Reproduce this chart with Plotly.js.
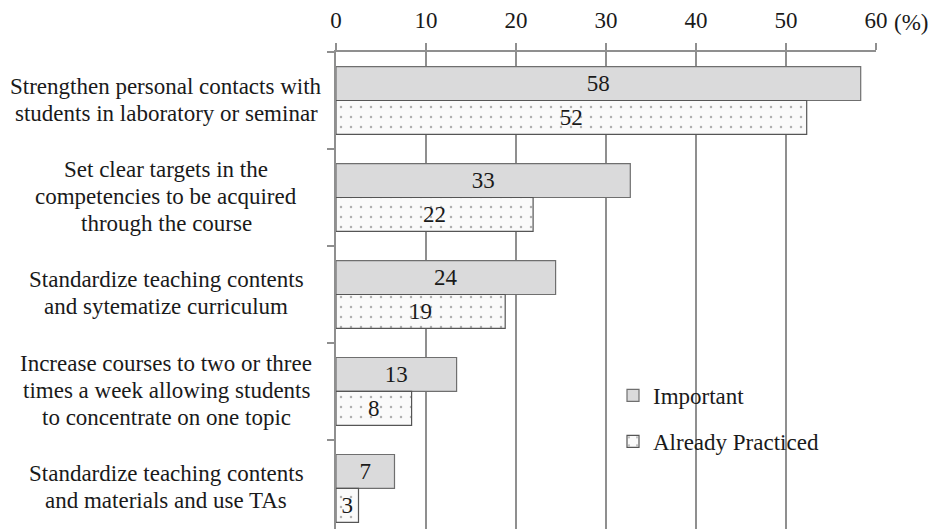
<!DOCTYPE html>
<html>
<head>
<meta charset="utf-8">
<script src="https://cdn.plot.ly/plotly-3.0.1.min.js"></script>
<style>html,body{margin:0;padding:0;background:#fff;}#chart{width:931px;height:529px;}</style>
</head>
<body>
<div id="chart"></div>
<script>
// ---- data ----
const categories = [
  "Strengthen personal contacts with<br>students in laboratory or seminar",
  "Set clear targets in the<br>competencies to be acquired<br>through the course",
  "Standardize teaching contents<br>and sytematize curriculum",
  "Increase courses to two or three<br>times a week allowing students<br>to concentrate on one topic",
  "Standardize teaching contents<br>and materials and use TAs"
];
const importantValues = [58.3, 32.7, 24.4, 13.4, 6.5];
const importantLabels = ["58", "33", "24", "13", "7"];
const practicedValues = [52.3, 21.9, 18.8, 8.4, 2.5];
const practicedLabels = ["52", "22", "19", "8", "3"];
const xTickVals = [0, 10, 20, 30, 40, 50, 60];
const seriesNames = ["Important", "Already Practiced"];

// ---- styling ----
const FONT = "'Liberation Serif', 'DejaVu Serif', serif";
const TXT = "#1a1a1a";
const FS = 23;

const traces = [
  {
    type: "bar", orientation: "h", name: seriesNames[0], legendgroup: "a",
    y: categories, x: importantValues, text: importantLabels,
    textposition: "inside", insidetextanchor: "middle", constraintext: "none",
    textfont: {family: FONT, size: FS, color: TXT},
    marker: {color: "#dadadb", line: {color: "#6f6f6f", width: 1.2}},
    hoverinfo: "skip"
  },
  {
    type: "bar", orientation: "h", name: seriesNames[1], legendgroup: "b",
    y: categories, x: practicedValues, text: practicedLabels,
    textposition: "inside", insidetextanchor: "middle", constraintext: "none",
    textfont: {family: FONT, size: FS, color: TXT},
    marker: {color: "#fafafa", line: {color: "#555555", width: 1.2},
      pattern: {shape: ".", fgcolor: "#666666", bgcolor: "#fafafa", size: 10, solidity: 0.05, fillmode: "overlay"}},
    hoverinfo: "skip"
  }
];

// category label annotations, one per line for exact line spacing
const annotations = [];
const LINE = 27;
categories.forEach((c, ci) => {
  const lines = c.split("<br>");
  const n = lines.length;
  lines.forEach((ln, i) => {
    annotations.push({
      xref: "paper", yref: "y", x: (166 - 336) / 540, y: c,
      xanchor: "center", yanchor: "middle", showarrow: false,
      yshift: -((i - (n - 1) / 2) * LINE) + 1,
      text: ln, font: {family: FONT, size: FS, color: TXT}
    });
  });
});
annotations.push({
  xref: "paper", yref: "paper", x: (892 - 336) / 540, y: 1 + (52 - 22) / 477,
  xanchor: "left", yanchor: "middle", showarrow: false,
  text: "(%)", font: {family: FONT, size: FS, color: TXT}
});

const layout = {
  width: 931, height: 529,
  margin: {l: 336, r: 55, t: 52, b: 0, pad: 0},
  paper_bgcolor: "#ffffff", plot_bgcolor: "#ffffff",
  font: {family: FONT, size: FS, color: TXT},
  barmode: "group", bargap: 0.3, bargroupgap: 0,
  showlegend: true,
  legend: {
    x: (613 - 336) / 540, xanchor: "left", y: 1 - (374 - 52) / 477, yanchor: "top",
    bgcolor: "rgba(255,255,255,0)", font: {family: FONT, size: FS, color: TXT},
    traceorder: "grouped", tracegroupgap: 13, itemclick: false
  },
  xaxis: {
    side: "top", range: [0, 60], tickvals: xTickVals, ticktext: xTickVals.map(String),
    showgrid: true, gridcolor: "#8f8f8f", gridwidth: 1.6,
    showline: true, linecolor: "#8f8f8f", linewidth: 2,
    ticks: "outside", ticklen: 7, tickcolor: "#8f8f8f", tickwidth: 1.6,
    ticklabelstandoff: 6, zeroline: false, fixedrange: true,
    tickfont: {family: FONT, size: FS, color: TXT}
  },
  yaxis: {
    type: "category", range: [4.418, -0.5], showticklabels: false,
    showline: true, linecolor: "#8f8f8f", linewidth: 2,
    ticks: "outside", tickson: "boundaries", ticklen: 7, tickcolor: "#8f8f8f", tickwidth: 1.6,
    showgrid: false, zeroline: false, fixedrange: true
  },
  annotations: annotations
};

Plotly.newPlot("chart", traces, layout, {displayModeBar: false, staticPlot: true});
</script>
</body>
</html>
